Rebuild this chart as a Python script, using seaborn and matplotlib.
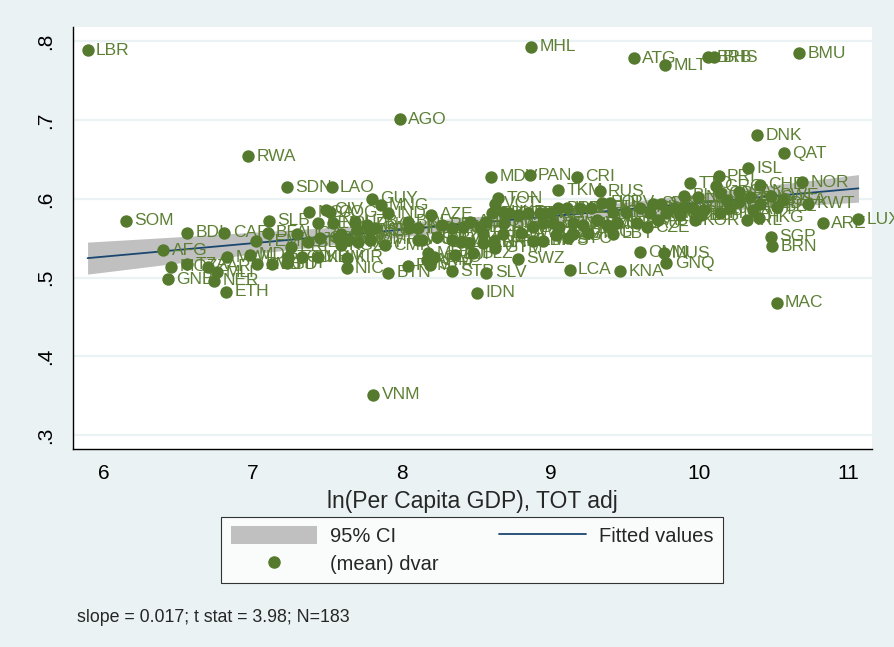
import numpy as np
import pandas as pd
import matplotlib
matplotlib.use("Agg")
import matplotlib.pyplot as plt
import seaborn as sns
from matplotlib.patches import Patch
from matplotlib.lines import Line2D

# --- data (country code, ln GDP, mean dvar) ---
codes = [
    # poorest
    "LBR", "SOM", "AFG", "GNB", "MOZ", "BDI", "TZA", "ZAR", "NER", "MLI",
    "CAF", "ETH", "MWI", "RWA", "MDG", "YEM", "ZMB", "BFA", "SLB", "BGD",
    "SDN", "HTI", "TCD", "ERI", "UGA", "GMB", "NGA", "BEN", "KEN", "KHM",
    "COM", "CIV", "NPL", "SEN", "LAO", "COG", "GHA", "KGZ", "TJK", "KIR",
    "NIC", "UZB", "ZWE", "MRT", "PNG", "MMR", "LSO", "GUY", "VNM", "PAK",
    "MNG", "CMR", "IND", "BTN", "AGO",
    # lower middle
    "BOL", "HND", "FSM", "PHL", "WSM", "VUT", "AZE", "MDA", "ARM", "SYR",
    "GEO", "CPV", "PRY", "IRQ", "EGY", "DJI", "STP", "LKA", "JOR", "MAR",
    "ALB", "BLZ", "ECU", "TUN", "DOM", "FJI", "NAM", "GTM", "MDV", "TON",
    "VCT", "UKR", "SLV", "IDN", "CHN",
    # upper middle
    "PAN", "CRI", "TKM", "RUS", "GRD", "JAM", "PER", "THA", "COL", "BRA",
    "KAZ", "BGR", "ROU", "BIH", "BLR", "IRN", "VEN", "ZAF", "URY", "MEX",
    "DZA", "BWA", "GAB", "TUR", "LBN", "MYS", "SYC", "SWZ", "LCA", "ARG",
    "POL", "HRV", "MHL",
    # high middle
    "LTU", "EST", "HUN", "SVK", "CHL", "MNE", "SRB", "SAU", "CZE", "ABW",
    "LBY", "OMN", "MUS", "GNQ", "KNA", "ATG", "MLT", "SVN", "PRT", "CYP",
    "ISR", "TWN", "NCL", "PYF", "KOR", "BHR", "TTO", "ESP", "NZL",
    # rich
    "PRI", "GRC", "ISL", "DNK", "QAT", "CHE", "NOR", "GBR", "FRA", "CAN",
    "DEU", "AUS", "NLD", "SWE", "ITA", "JPN", "AUT", "BEL", "FIN", "IRL",
    "USA", "KWT", "HKG", "ARE", "LUX", "SGP", "BRN", "MAC", "BRB",
    "BHS", "BMU",
]

lngdp = [
    5.89, 6.15, 6.40, 6.43, 6.45, 6.56, 6.56, 6.70, 6.74, 6.76,
    6.81, 6.82, 6.83, 6.97, 6.98, 7.02, 7.03, 7.10, 7.11, 7.13,
    7.23, 7.23, 7.24, 7.26, 7.30, 7.33, 7.38, 7.37, 7.44, 7.44,
    7.45, 7.49, 7.54, 7.57, 7.53, 7.52, 7.59, 7.59, 7.64, 7.63,
    7.63, 7.69, 7.70, 7.71, 7.77, 7.79, 7.79, 7.80, 7.81, 7.82,
    7.86, 7.89, 7.91, 7.91, 7.99,
    8.04, 8.05, 8.04, 8.11, 8.11, 8.14, 8.20, 8.18, 8.17, 8.19,
    8.22, 8.24, 8.27, 8.34, 8.34, 8.36, 8.34, 8.40, 8.41, 8.45,
    8.46, 8.48, 8.53, 8.55, 8.57, 8.61, 8.62, 8.63, 8.60, 8.65,
    8.63, 8.68, 8.57, 8.51, 8.55,
    8.86, 9.18, 9.05, 9.33, 8.72, 8.78, 8.85, 8.93, 9.00, 9.05,
    9.11, 9.20, 9.27, 8.69, 8.88, 8.95, 9.02, 9.06, 9.15, 9.22,
    8.68, 8.80, 9.04, 9.15, 8.88, 8.95, 9.12, 8.78, 9.13, 9.25,
    9.35, 9.40, 8.87,
    9.42, 9.51, 9.60, 9.69, 9.31, 9.38, 9.45, 9.58, 9.65, 9.72,
    9.42, 9.60, 9.76, 9.78, 9.47, 9.56, 9.77, 9.74, 9.83, 9.89,
    9.96, 9.67, 9.78, 9.87, 9.97, 9.90, 9.94, 10.01, 9.99,
    10.13, 10.11, 10.33, 10.39, 10.57, 10.41, 10.69, 10.14, 10.19, 10.27,
    10.27, 10.34, 10.41, 10.48, 10.03, 10.21, 10.36, 10.52, 10.14, 10.32,
    10.56, 10.73, 10.40, 10.83, 11.07, 10.48, 10.49, 10.52, 10.06,
    10.10, 10.67,
]

dvar = [
    .789, .572, .535, .498, .514, .557, .517, .514, .496, .507,
    .557, .482, .526, .654, .529, .546, .517, .557, .572, .517,
    .615, .518, .526, .539, .556, .526, .583, .545, .569, .526,
    .550, .586, .569, .550, .615, .583, .556, .541, .548, .525,
    .512, .571, .560, .545, .567, .548, .560, .600, .351, .563,
    .592, .541, .582, .506, .701,
    .571, .563, .515, .563, .548, .548, .580, .531, .522, .516,
    .526, .551, .567, .563, .548, .529, .508, .545, .564, .544,
    .571, .531, .564, .544, .571, .582, .546, .538, .628, .601,
    .594, .583, .506, .481, .557,
    .630, .628, .611, .610, .582, .579, .582, .582, .582, .588,
    .588, .588, .589, .569, .564, .569, .569, .564, .569, .567,
    .556, .557, .554, .556, .547, .547, .550, .524, .510, .557,
    .595, .595, .793,
    .583, .583, .589, .594, .573, .567, .569, .569, .564, .573,
    .556, .532, .531, .518, .508, .779, .770, .594, .589, .589,
    .589, .582, .582, .579, .573, .604, .620, .579, .602,
    .629, .616, .639, .681, .658, .618, .621, .607, .599, .609,
    .596, .602, .594, .604, .586, .588, .586, .590, .582, .573,
    .599, .594, .576, .569, .574, .552, .540, .468, .780,
    .780, .785,
]

y_ticks = [.3, .4, .5, .6, .7, .8]
y_tick_labels = [".3", ".4", ".5", ".6", ".7", ".8"]
x_ticks = [6, 7, 8, 9, 10, 11]
note = "slope = 0.017; t stat = 3.98; N=183"

df = pd.DataFrame({"code": codes, "lngdp": lngdp, "dvar": dvar})

# --- style ---
BG = "#eaf2f3"
GREEN = "#557a2e"
LABEL_GREEN = "#5d8034"
NAVY = "#1a476f"
CI_GRAY = "#c0c0c0"

sns.set_style("white")
plt.rcParams["font.family"] = ["Liberation Sans", "DejaVu Sans"]

# --- linear fit with 95% CI (lfitci style) ---
x = df["lngdp"].to_numpy()
y = df["dvar"].to_numpy()
n = len(x)
slope, intercept = np.polyfit(x, y, 1)
resid = y - (intercept + slope * x)
s = np.sqrt((resid ** 2).sum() / (n - 2))
sxx = ((x - x.mean()) ** 2).sum()
xs = np.linspace(x.min(), x.max(), 200)
fit = intercept + slope * xs
se = s * np.sqrt(1 / n + (xs - x.mean()) ** 2 / sxx)
tcrit = 1.973
fit_df = pd.DataFrame({"x": xs, "fit": fit})

fig = plt.figure(figsize=(8.95, 6.47), dpi=100, facecolor=BG)
ax = fig.add_axes([73 / 895, 1 - 449 / 647, (872 - 73) / 895, (449 - 27) / 647])
ax.set_facecolor("white")

ax.fill_between(xs, fit - tcrit * se, fit + tcrit * se, color=CI_GRAY, lw=0, zorder=1)
sns.lineplot(data=fit_df, x="x", y="fit", ax=ax, color=NAVY, lw=1.3, zorder=2)

# markers and labels drawn point by point, left to right
order = df.sort_values("lngdp").reset_index(drop=True)
for i, row in order.iterrows():
    z = 3 + 2 * i
    sns.scatterplot(x=[row.lngdp], y=[row.dvar], ax=ax, color=GREEN, s=80,
                    linewidth=0, zorder=z, legend=False)
    ax.annotate(row.code, (row.lngdp, row.dvar), xytext=(6, 0),
                textcoords="offset points", va="center", ha="left",
                fontsize=12.5, color=LABEL_GREEN, zorder=z + 1)

ax.set_xlim(5.792, 11.161)
ax.set_ylim(0.2822, 0.8184)
ax.set_yticks(y_ticks)
ax.set_yticklabels(y_tick_labels)
ax.set_xticks(x_ticks)
for lab in ax.get_yticklabels():
    lab.set_rotation(90)
    lab.set_va("center")
ax.yaxis.grid(True, color=BG, lw=1.6, zorder=0)
ax.set_axisbelow(True)
ax.tick_params(axis="both", direction="out", length=7, width=1, color="black",
               labelsize=15, labelcolor="black")
ax.tick_params(axis="y", pad=6)
ax.tick_params(axis="x", pad=4)
for side in ["top", "right"]:
    ax.spines[side].set_visible(False)
for side in ["left", "bottom"]:
    ax.spines[side].set_color("black")
    ax.spines[side].set_linewidth(1)

ax.set_xlabel("ln(Per Capita GDP), TOT adj", fontsize=16.5, labelpad=5)
ax.set_ylabel("")

handles = [
    Patch(facecolor=CI_GRAY, edgecolor="none"),
    Line2D([], [], marker="o", linestyle="none", color=GREEN, markersize=8),
    Line2D([], [], color=NAVY, lw=1.3),
]
labels = ["95% CI", "(mean) dvar", "Fitted values"]
leg = fig.legend(handles, labels, ncol=2, loc="center",
                 bbox_to_anchor=(472 / 895, 1 - 550 / 647),
                 frameon=True, fancybox=False, edgecolor="black",
                 facecolor="white", fontsize=14.5, handlelength=4.3,
                 handleheight=1.05, handletextpad=0.65, columnspacing=3.0,
                 labelspacing=0.4, borderpad=0.45)
leg.get_frame().set_linewidth(0.8)

fig.text(77 / 895, 1 - 617 / 647, note, fontsize=12.8, va="center", ha="left")

fig.savefig("out.png", dpi=100, facecolor=BG)
